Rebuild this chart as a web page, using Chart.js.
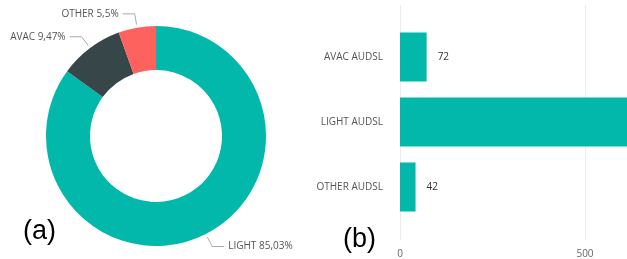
<!DOCTYPE html>
<html>
<head>
<meta charset="utf-8">
<script src="https://cdn.jsdelivr.net/npm/chart.js@4"></script>
<style>
  html, body { margin: 0; padding: 0; background: #fff; width: 627px; height: 259px; overflow: hidden; }
  #wrap { position: relative; width: 627px; height: 259px; overflow: hidden; }
  #donut { position: absolute; left: 0; top: 0; }
  #barras { position: absolute; left: 300px; top: 0; }
  .tag { position: absolute; font-family: "Liberation Sans", Arial, sans-serif; font-size: 27px; line-height: 27px; color: #000; }
</style>
</head>
<body>
<div id="wrap">
  <canvas id="donut" width="300" height="259"></canvas>
  <canvas id="barras" width="470" height="259"></canvas>
  <div class="tag" style="left:23px; top:217px;">(a)</div>
  <div class="tag" style="left:343px; top:225px;">(b)</div>
</div>
<script>
  // dados do donut (percentuais)
  const fatias = ['LIGHT', 'AVAC', 'OTHER'];
  const percentuais = [85.03, 9.47, 5.5];
  const coresFatias = ['#01B8AA', '#374649', '#FD625E'];

  // dados das barras
  const categorias = ['AVAC AUDSL', 'LIGHT AUDSL', 'OTHER AUDSL'];
  const valores = [72, 646, 42];
  const ticksX = [0, 500];

  const fonte = '"Open Sans", sans-serif';

  // rótulos com linha de chamada no donut
  const rotulosDonut = {
    id: 'rotulosDonut',
    afterDatasetsDraw(chart) {
      const ctx = chart.ctx;
      const arcs = chart.getDatasetMeta(0).data;
      ctx.save();
      ctx.font = '10px ' + fonte;
      ctx.textBaseline = 'middle';
      arcs.forEach((arc, i) => {
        const meio = (arc.startAngle + arc.endAngle) / 2;
        const c = Math.cos(meio), s = Math.sin(meio);
        const r = arc.outerRadius;
        const x1 = arc.x + (r + 3) * c, y1 = arc.y + (r + 3) * s;
        const x2 = arc.x + (r + 14) * c, y2 = arc.y + (r + 14) * s;
        const lado = c < 0 ? -1 : 1;
        const x3 = x2 + lado * 12;
        ctx.strokeStyle = '#aaa';
        ctx.lineWidth = 1;
        ctx.beginPath();
        ctx.moveTo(x1, y1);
        ctx.lineTo(x2, y2);
        ctx.lineTo(x3, y2);
        ctx.stroke();
        ctx.fillStyle = '#555';
        ctx.textAlign = lado < 0 ? 'right' : 'left';
        const txt = fatias[i] + ' ' + String(percentuais[i]).replace('.', ',') + '%';
        ctx.fillText(txt, x3 + lado * 4, y2);
      });
      ctx.restore();
    }
  };

  new Chart(document.getElementById('donut'), {
    type: 'doughnut',
    data: {
      labels: fatias,
      datasets: [{
        data: percentuais,
        backgroundColor: coresFatias,
        borderWidth: 0
      }]
    },
    options: {
      responsive: false,
      animation: false,
      cutout: '60%',
      layout: { padding: { left: 46, right: 34, top: 26, bottom: 13 } },
      plugins: { legend: { display: false }, tooltip: { enabled: false } }
    },
    plugins: [rotulosDonut]
  });

  // linhas de grade verticais + valores nas barras
  const gradeEValores = {
    id: 'gradeEValores',
    beforeDatasetsDraw(chart) {
      const ctx = chart.ctx;
      const x = chart.scales.x;
      ctx.save();
      ctx.strokeStyle = '#ececec';
      ctx.lineWidth = 1;
      ticksX.forEach(v => {
        const px = Math.round(x.getPixelForValue(v)) + 0.5;
        ctx.beginPath();
        ctx.moveTo(px, 5);
        ctx.lineTo(px, 240);
        ctx.stroke();
      });
      ctx.restore();
    },
    afterDatasetsDraw(chart) {
      const ctx = chart.ctx;
      const bars = chart.getDatasetMeta(0).data;
      ctx.save();
      ctx.font = '10px ' + fonte;
      ctx.fillStyle = '#333';
      ctx.textAlign = 'left';
      ctx.textBaseline = 'middle';
      bars.forEach((b, i) => {
        ctx.fillText(valores[i], b.x + 11, b.y);
      });
      ctx.restore();
    }
  };

  new Chart(document.getElementById('barras'), {
    type: 'bar',
    data: {
      labels: categorias,
      datasets: [{
        data: valores,
        backgroundColor: '#01B8AA',
        barPercentage: 0.754,
        categoryPercentage: 1
      }]
    },
    options: {
      indexAxis: 'y',
      responsive: false,
      animation: false,
      layout: { padding: { top: 24.5, left: 0, right: 0, bottom: 0 } },
      plugins: { legend: { display: false }, tooltip: { enabled: false } },
      scales: {
        y: {
          afterFit(s) { s.width = 100; },
          grid: { display: false },
          border: { display: false },
          ticks: { color: '#555', font: { family: fonte, size: 10 }, padding: 9 }
        },
        x: {
          min: 0,
          max: 1000,
          afterFit(s) { s.height = 39.5; },
          afterBuildTicks(s) { s.ticks = ticksX.map(v => ({ value: v })); },
          grid: { display: false },
          border: { display: false },
          ticks: { color: '#666', font: { family: fonte, size: 10 }, padding: 21 }
        }
      }
    },
    plugins: [gradeEValores]
  });
</script>
</body>
</html>
